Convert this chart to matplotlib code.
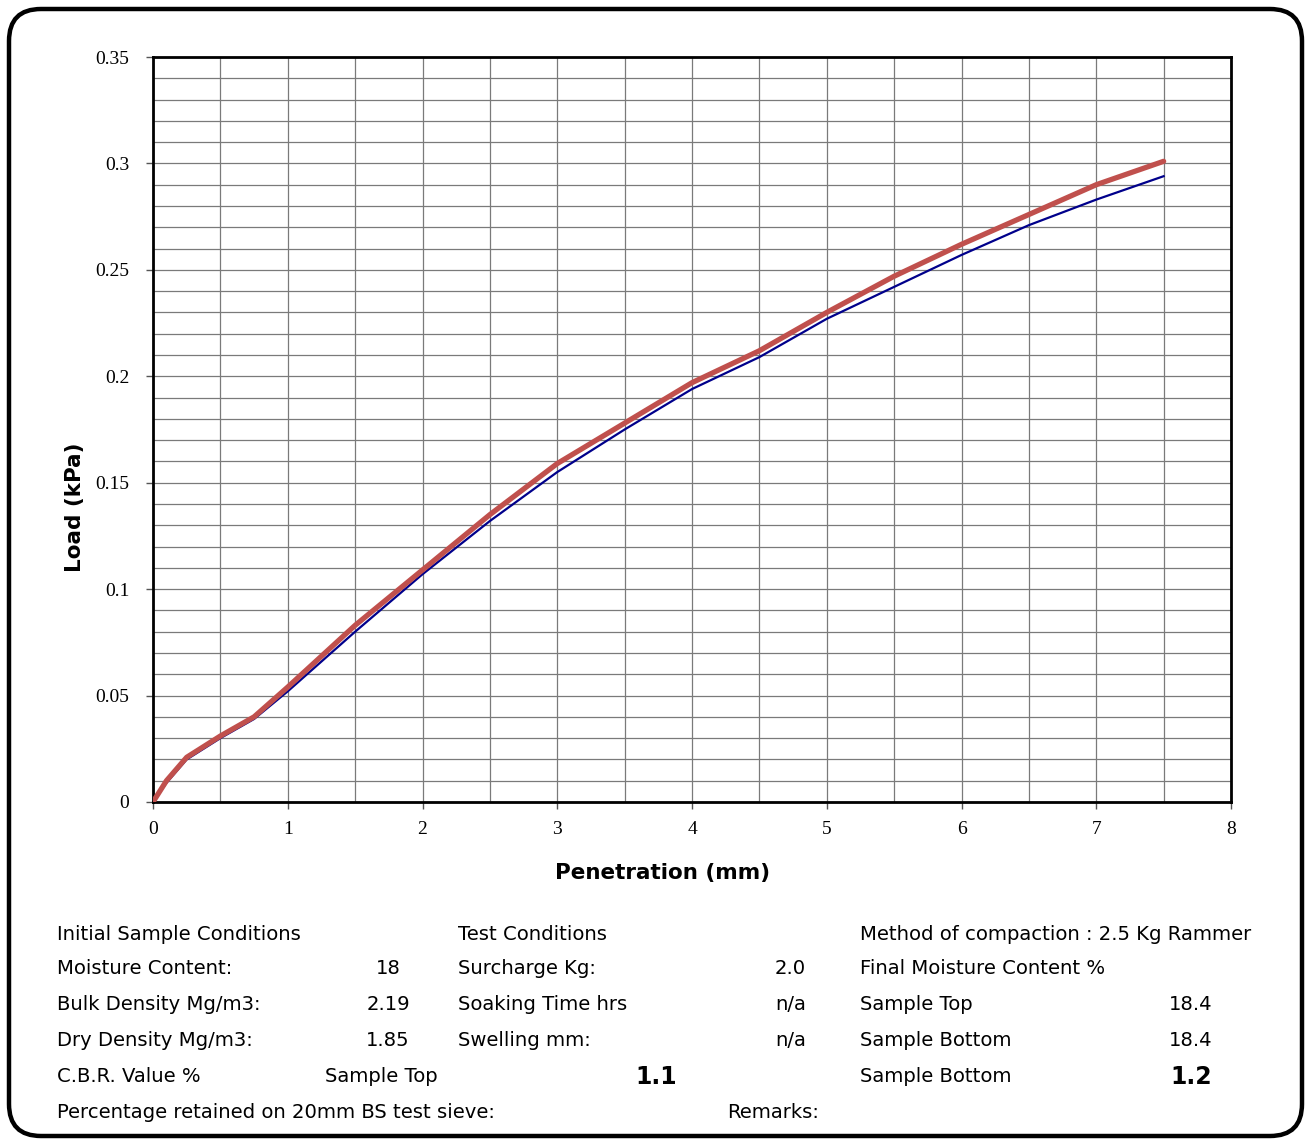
import numpy as np
import matplotlib.pyplot as plt
from matplotlib.patches import FancyBboxPatch
from matplotlib.ticker import MultipleLocator

# CBR test readings
penetration = [0, 0.1, 0.25, 0.5, 0.75, 1.0, 1.5, 2.0, 2.5, 3.0, 3.5, 4.0, 4.5, 5.0, 5.5, 6.0, 6.5, 7.0, 7.5]
load_red = [0, 0.010, 0.021, 0.031, 0.040, 0.054, 0.083, 0.109, 0.135, 0.159, 0.178, 0.197, 0.212,
            0.230, 0.247, 0.262, 0.276, 0.290, 0.301]
load_blue = [0, 0.009, 0.020, 0.030, 0.039, 0.052, 0.080, 0.107, 0.132, 0.155, 0.175, 0.194, 0.209,
             0.227, 0.242, 0.257, 0.271, 0.283, 0.294]

# sheet text
col1_labels = ["Initial Sample Conditions", "Moisture Content:", "Bulk Density Mg/m3:",
               "Dry Density Mg/m3:", "C.B.R. Value %", "Percentage retained on 20mm BS test sieve:"]
col1_values = ["", "18", "2.19", "1.85", "Sample Top", ""]
col2_labels = ["Test Conditions", "Surcharge Kg:", "Soaking Time hrs", "Swelling mm:", "", ""]
col2_values = ["", "2.0", "n/a", "n/a", "", ""]
col3_labels = ["Method of compaction : 2.5 Kg Rammer", "Final Moisture Content %", "Sample Top",
               "Sample Bottom", "Sample Bottom", ""]
col3_values = ["", "", "18.4", "18.4", "", ""]
cbr_top = "1.1"
cbr_bottom = "1.2"

W, H = 1311, 1143
fig = plt.figure(figsize=(W / 100, H / 100), dpi=100)

# background sheet with rounded frame, in pixel units
bg = fig.add_axes([0, 0, 1, 1], zorder=0)
bg.set_xlim(0, W)
bg.set_ylim(H, 0)
bg.axis('off')
frame = FancyBboxPatch((9, 9), W - 18, H - 16, boxstyle="round,pad=0,rounding_size=32",
                       facecolor='white', edgecolor='black', linewidth=3.2)
bg.add_patch(frame)

ax = fig.add_axes([153 / W, 1 - 802 / H, (1231 - 153) / W, (802 - 57) / H], zorder=1)
ax.plot(penetration, load_blue, color='#00008B', linewidth=1.6, zorder=3)
ax.plot(penetration, load_red, color='#C0504D', linewidth=3.8, solid_capstyle='round',
        solid_joinstyle='round', zorder=4)

ax.set_xlim(0, 8)
ax.set_ylim(0, 0.35)
ax.xaxis.set_major_locator(MultipleLocator(1))
ax.xaxis.set_minor_locator(MultipleLocator(0.5))
ax.yaxis.set_major_locator(MultipleLocator(0.05))
ax.yaxis.set_minor_locator(MultipleLocator(0.01))
ax.grid(True, which='both', color='#7a7a7a', linewidth=0.9)
ax.set_axisbelow(True)
for s in ax.spines.values():
    s.set_linewidth(2.0)
    s.set_color('black')

ax.set_yticks([0, 0.05, 0.1, 0.15, 0.2, 0.25, 0.3, 0.35])
ax.set_yticklabels(['0', '0.05', '0.1', '0.15', '0.2', '0.25', '0.3', '0.35'])
ax.tick_params(which='major', length=5, width=1, color='#555555', labelsize=14, pad=12)
ax.tick_params(which='minor', length=0)
for lab in ax.get_xticklabels() + ax.get_yticklabels():
    lab.set_fontfamily('Liberation Serif')
ax.tick_params(axis='x', pad=9)

ax.set_xlabel("Penetration (mm)", fontsize=15.5, fontweight='bold')
ax.set_ylabel("Load (kPa)", fontsize=15.5, fontweight='bold')
ax.xaxis.set_label_coords(0.473, -0.082)
ax.yaxis.set_label_coords(-0.063, 0.396)

# table below the chart
rows_y = [934, 969, 1005, 1041, 1077, 1112]
fs = 14.1
for i, y in enumerate(rows_y):
    bg.text(57, y, col1_labels[i], fontsize=fs, va='center', ha='left')
    if col1_values[i]:
        bg.text(388 if i < 4 else 381, y, col1_values[i], fontsize=fs, va='center', ha='center')
    if col2_labels[i]:
        bg.text(458, y, col2_labels[i], fontsize=fs, va='center', ha='left')
    if col2_values[i]:
        bg.text(806, y, col2_values[i], fontsize=fs, va='center', ha='right')
    if col3_labels[i]:
        bg.text(860, y, col3_labels[i], fontsize=fs, va='center', ha='left')
    if col3_values[i]:
        bg.text(1191, y, col3_values[i], fontsize=fs, va='center', ha='center')

bg.text(656, rows_y[4], cbr_top, fontsize=17, fontweight='heavy', va='center', ha='center')
bg.text(1191, rows_y[4], cbr_bottom, fontsize=17, fontweight='heavy', va='center', ha='center')
bg.text(727, rows_y[5], "Remarks:", fontsize=fs, va='center', ha='left')

fig.savefig('out.png', dpi=100)
